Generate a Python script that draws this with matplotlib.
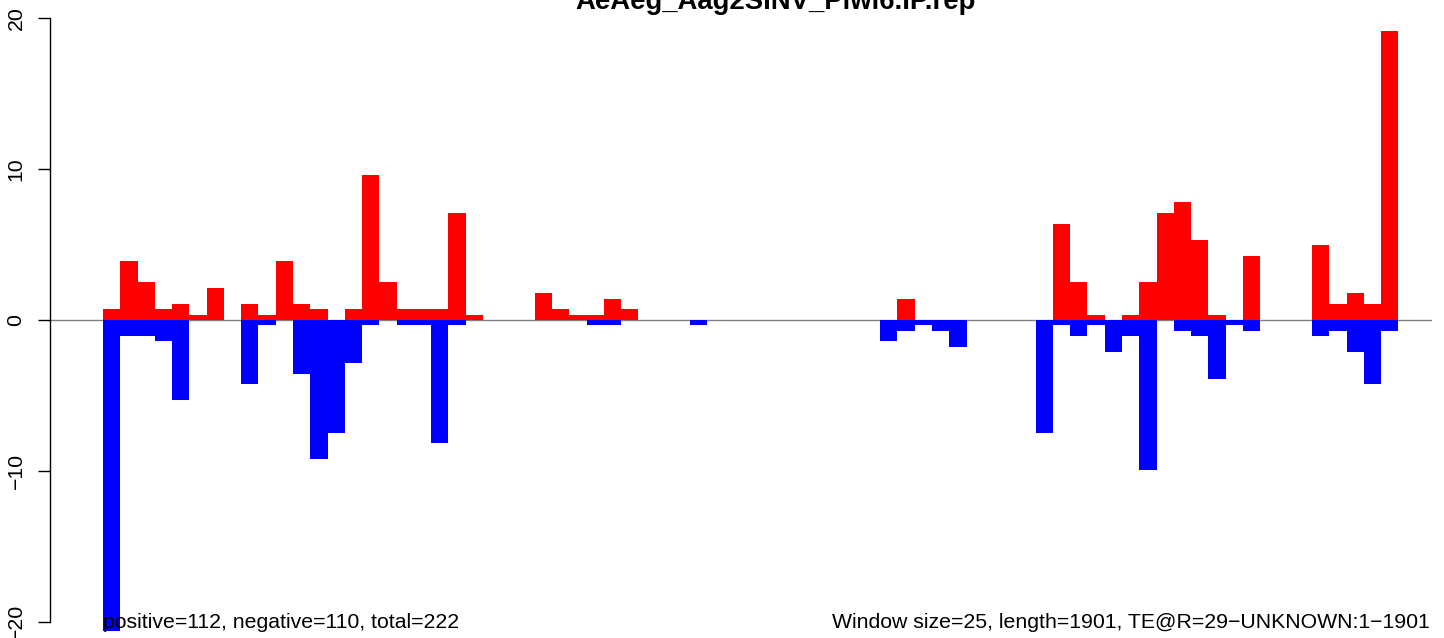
import matplotlib
matplotlib.use("Agg")
import matplotlib.pyplot as plt
import numpy as np

plt.rcParams['font.family'] = ['Liberation Sans', 'DejaVu Sans']

title = "AeAeg_Aag2SINV_Piwi6.IP.rep"
left_note = "positive=112, negative=110, total=222"
right_note = "Window size=25, length=1901, TE@R=29\u2212UNKNOWN:1\u22121901"

# one value per 25 nt window (76 windows)
positive = [0.71, 3.9, 2.49, 0.71, 1.07, 0.36, 2.13, 0, 1.07, 0.36,
            3.9, 1.07, 0.71, 0, 0.71, 9.59, 2.49, 0.71, 0.71, 0.71,
            7.1, 0.36, 0, 0, 0, 1.78, 0.71, 0.36, 0.36, 1.42,
            0.71, 0, 0, 0, 0, 0, 0, 0, 0, 0,
            0, 0, 0, 0, 0, 0, 1.42, 0, 0, 0,
            0, 0, 0, 0, 0, 6.39, 2.49, 0.36, 0, 0.36,
            2.49, 7.1, 7.81, 5.33, 0.36, 0, 4.26, 0, 0, 0,
            4.97, 1.07, 1.78, 1.07, 19.17, 0]
negative = [-20.6, -1.07, -1.07, -1.42, -5.33, 0, 0, 0, -4.26, -0.36,
            0, -3.55, -9.23, -7.46, -2.84, -0.36, 0, -0.36, -0.36, -8.17,
            -0.36, 0, 0, 0, 0, 0, 0, 0, -0.36, -0.36,
            0, 0, 0, 0, -0.36, 0, 0, 0, 0, 0,
            0, 0, 0, 0, 0, -1.42, -0.71, -0.36, -0.71, -1.78,
            0, 0, 0, 0, -7.46, -0.36, -1.07, -0.36, -2.13, -1.07,
            -9.94, 0, -0.71, -1.07, -3.91, -0.36, -0.71, 0, 0, 0,
            -1.07, -0.71, -2.13, -4.26, -0.71, 0]
yticks = [-20, -10, 0, 10, 20]

W, H = 1444, 638
fig = plt.figure(figsize=(W / 100, H / 100), dpi=100)

# plot region: x 50..1432 px, y spans -21.6..21.6 (partly cropped off the image)
ax = fig.add_axes([50 / W, (H - 646) / H, 1382 / W, 652 / H])
ax.set_xlim(-3.07, 76.95)
ax.set_ylim(-21.6, 21.6)

x = np.arange(len(positive))
ax.axhline(0, color='#808080', linewidth=1.0, zorder=1)
ax.bar(x, negative, width=1, align='edge', color='#0000ff',
       linewidth=0, zorder=2)
ax.bar(x, positive, width=1, align='edge', color='#ff0000',
       linewidth=0, zorder=3)

for side in ['top', 'right', 'bottom']:
    ax.spines[side].set_visible(False)
ax.spines['left'].set_bounds(-20, 20)
ax.spines['left'].set_linewidth(1.0)
ax.set_xticks([])
ax.set_yticks(yticks)
ax.tick_params(axis='y', labelrotation=90, length=8.6, width=1.0,
               pad=9.0, labelsize=15.3)
for lab in ax.get_yticklabels():
    lab.set_verticalalignment('center')

fig.text(776 / W, 1 - 9 / H, title, ha='center', va='baseline',
         fontsize=19.8, fontweight='bold')
fig.text(103 / W, 1 - 628 / H, left_note, ha='left', va='baseline',
         fontsize=15.3)
fig.text(1430 / W, 1 - 628 / H, right_note, ha='right', va='baseline',
         fontsize=15.3)

fig.savefig("out.png", dpi=100)
